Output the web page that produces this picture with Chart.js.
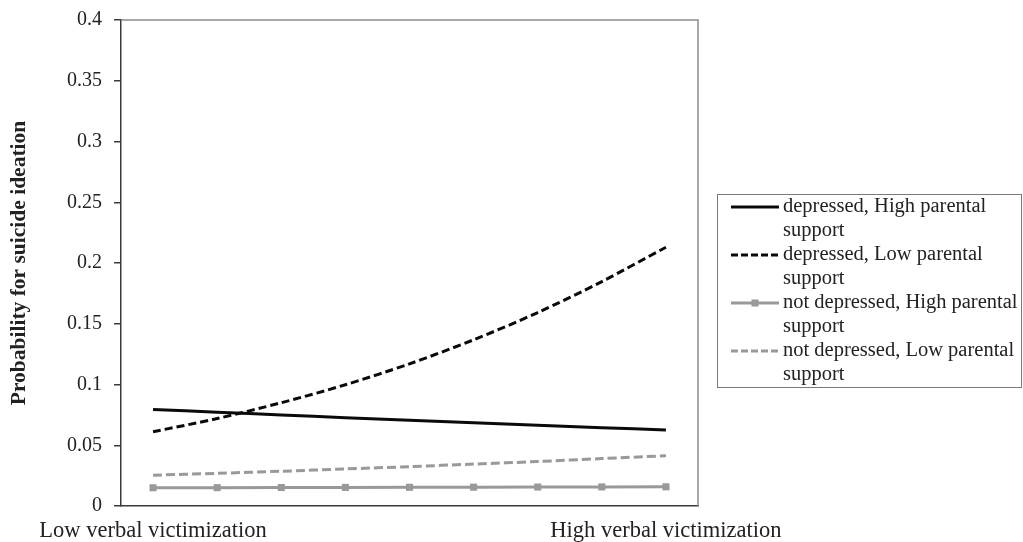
<!DOCTYPE html>
<html>
<head>
<meta charset="utf-8">
<script src="https://cdn.jsdelivr.net/npm/chart.js@4.4.1/dist/chart.umd.min.js"></script>
<style>
  html, body { margin: 0; padding: 0; background: #ffffff; }
  #wrap { width: 1023px; height: 542px; }
</style>
</head>
<body>
<div id="wrap"><canvas id="c" width="1023" height="542"></canvas></div>
<script>
// ---- data ----
const categories = [
  'Low verbal victimization', '', '', '', '', '', '', '', 'High verbal victimization'
];
const seriesLabels = [
  'depressed, High parental support',
  'depressed, Low parental support',
  'not depressed, High parental support',
  'not depressed, Low parental support'
];
const depressedHigh = [0.0795, 0.0772, 0.0749, 0.0727, 0.0706, 0.0685, 0.0665, 0.0645, 0.0625];
const depressedLow = [0.0611, 0.0720, 0.0850, 0.0998, 0.1170, 0.1368, 0.1592, 0.1847, 0.2130];
const notDepressedHigh = [0.0150, 0.0151, 0.0152, 0.0153, 0.0154, 0.0155, 0.0156, 0.0157, 0.0158];
const notDepressedLow = [0.0253, 0.0269, 0.0286, 0.0305, 0.0324, 0.0345, 0.0366, 0.0390, 0.0414];
const yTicks = [0, 0.05, 0.1, 0.15, 0.2, 0.25, 0.3, 0.35, 0.4];
const yTitle = 'Probability for suicide ideation';

const FONT = "'Liberation Serif', 'Times New Roman', serif";
const BLACK = '#0a0a0a';
const GREY = '#999999';

// custom legend drawn on the canvas (box with wrapped labels)
const boxLegend = {
  id: 'boxLegend',
  afterDraw(chart) {
    const ctx = chart.ctx;
    const bx = 717.5, by = 194.5, bw = 304, bh = 193;
    ctx.save();
    ctx.strokeStyle = '#7a7a7a';
    ctx.lineWidth = 1;
    ctx.strokeRect(bx, by, bw, bh);
    ctx.font = '20.5px ' + FONT;
    ctx.fillStyle = '#222';
    ctx.textBaseline = 'middle';
    ctx.textAlign = 'left';
    const textX = 783, lineH = 24, maxW = 236;
    let y = by + 12.5;
    chart.data.datasets.forEach((ds) => {
      const words = ds.label.split(' ');
      const lines = [];
      let cur = '';
      words.forEach(w => {
        const t = cur ? cur + ' ' + w : w;
        if (ctx.measureText(t).width > maxW && cur) { lines.push(cur); cur = w; } else { cur = t; }
      });
      if (cur) lines.push(cur);
      ctx.save();
      ctx.strokeStyle = ds.borderColor;
      ctx.lineWidth = ds.borderWidth;
      ctx.setLineDash(ds.borderDash && ds.borderDash.length ? [7, 3] : []);
      ctx.beginPath();
      ctx.moveTo(731, y);
      ctx.lineTo(779, y);
      ctx.stroke();
      ctx.restore();
      if (ds.pointRadius > 0) {
        ctx.fillStyle = ds.pointBackgroundColor;
        ctx.fillRect(755 - 3.5, y - 3.5, 7, 7);
        ctx.fillStyle = '#222';
      }
      lines.forEach((ln, i) => {
        ctx.fillText(ln, textX, y + i * lineH);
      });
      y += lines.length * lineH;
    });
    ctx.restore();
  }
};

// top and right frame lines of the plot area
const frame = {
  id: 'frame',
  beforeDatasetsDraw(chart) {
    const { ctx, chartArea: a } = chart;
    ctx.save();
    ctx.strokeStyle = '#8c8c8c';
    ctx.lineWidth = 1.5;
    ctx.beginPath();
    ctx.moveTo(a.left, a.top);
    ctx.lineTo(a.right, a.top);
    ctx.lineTo(a.right, a.bottom);
    ctx.stroke();
    ctx.restore();
  }
};

new Chart(document.getElementById('c'), {
  type: 'line',
  data: {
    labels: categories,
    datasets: [
      { label: seriesLabels[0], data: depressedHigh, borderColor: BLACK, borderWidth: 3,
        pointRadius: 0, borderDash: [], tension: 0.3 },
      { label: seriesLabels[1], data: depressedLow, borderColor: BLACK, borderWidth: 3,
        pointRadius: 0, borderDash: [8, 4], tension: 0.3 },
      { label: seriesLabels[2], data: notDepressedHigh, borderColor: GREY, borderWidth: 3,
        pointRadius: 5, pointStyle: 'rect', pointBackgroundColor: GREY, pointBorderColor: GREY,
        pointBorderWidth: 0, borderDash: [], tension: 0 },
      { label: seriesLabels[3], data: notDepressedLow, borderColor: GREY, borderWidth: 3,
        pointRadius: 0, borderDash: [9, 4], tension: 0.3 }
    ]
  },
  options: {
    responsive: false,
    devicePixelRatio: 1,
    animation: false,
    layout: { padding: { left: 0, top: 20, right: 325, bottom: 0 } },
    plugins: { legend: { display: false }, tooltip: { enabled: false } },
    scales: {
      x: {
        type: 'category',
        offset: true,
        grid: { display: false },
        border: { display: true, color: '#3a3a3a', width: 1.5 },
        ticks: { autoSkip: false, maxRotation: 0, minRotation: 0, padding: 4,
                 color: '#222', font: { family: FONT, size: 22.5 } },
        afterFit(s) { s.height = 36; }
      },
      y: {
        min: 0, max: 0.4,
        afterBuildTicks(s) { s.ticks = yTicks.map(v => ({ value: v })); },
        grid: { drawOnChartArea: false, drawTicks: true, tickLength: 7, color: '#3a3a3a', lineWidth: 1.5 },
        border: { display: true, color: '#3a3a3a', width: 1.5 },
        ticks: { padding: 12, color: '#222', font: { family: FONT, size: 20 },
                 callback: (v) => String(+Number(v).toFixed(2)) },
        title: { display: true, text: yTitle, color: '#222',
                 font: { family: FONT, size: 21.5, weight: 'bold' }, padding: { top: 7, bottom: 0 } },
        afterFit(s) { s.width = 121; s.paddingTop = 0; s.paddingBottom = 0; }
      }
    }
  },
  plugins: [frame, boxLegend]
});
</script>
</body>
</html>
